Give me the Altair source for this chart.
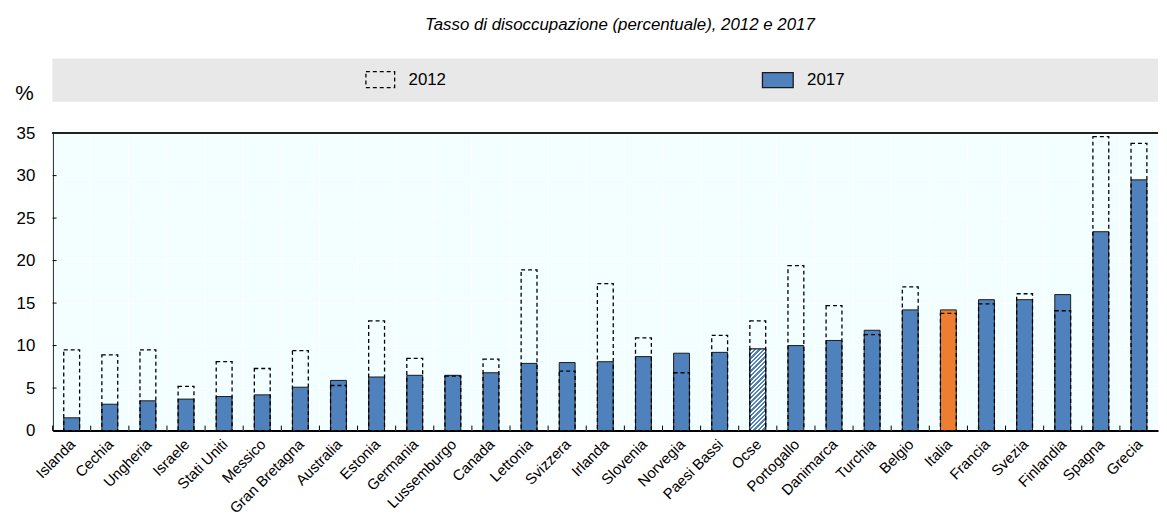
import altair as alt
import pandas as pd

countries = ["Islanda", "Cechia", "Ungheria", "Israele", "Stati Uniti", "Messico",
             "Gran Bretagna", "Australia", "Estonia", "Germania", "Lussemburgo", "Canada",
             "Lettonia", "Svizzera", "Irlanda", "Slovenia", "Norvegia", "Paesi Bassi",
             "Ocse", "Portogallo", "Danimarca", "Turchia", "Belgio", "Italia", "Francia",
             "Svezia", "Finlandia", "Spagna", "Grecia"]
v2017 = [1.5, 3.1, 3.5, 3.7, 4.0, 4.2, 5.1, 5.9, 6.3, 6.5, 6.5, 6.8, 7.9, 8.0, 8.1, 8.7,
         9.1, 9.2, 9.6, 10.0, 10.6, 11.8, 14.2, 14.2, 15.4, 15.4, 16.0, 23.4, 29.5]
v2012 = [9.5, 8.9, 9.5, 5.2, 8.1, 7.3, 9.4, 5.3, 12.9, 8.5, 6.4, 8.4, 18.9, 7.0, 17.3, 10.9,
         6.8, 11.2, 12.9, 19.4, 14.7, 11.3, 16.9, 13.8, 14.9, 16.1, 14.1, 34.6, 33.8]
y_ticks = [0, 5, 10, 15, 20, 25, 30, 35]
legend_labels = ["2012", "2017"]
title_text = "Tasso di disoccupazione (percentuale), 2012 e 2017"

BLUE = "#4F81BD"
ORANGE = "#ED7D31"
FONT = "Liberation Sans"
W = 1115
H = 300

df = pd.DataFrame({"country": countries, "v2017": v2017, "v2012": v2012})
ticks_df = pd.DataFrame({"t": y_ticks})

xenc = alt.X("country:N", sort=countries,
             scale=alt.Scale(paddingInner=0, paddingOuter=0),
             axis=alt.Axis(title=None, labelAngle=-45, labelAlign="right",
                           labelBaseline="top", labelFontSize=15, labelFont=FONT,
                           labelColor="black", ticks=False, labelPadding=6,
                           labelOffset=-4,
                           domainColor="black", domainWidth=2, grid=False))
yscale = alt.Scale(domain=[0, 35], nice=False)

base = alt.Chart(df)

vgrid = base.mark_rule(color="white", strokeWidth=1).encode(
    x=alt.X("country:N", sort=countries, bandPosition=0),
    y=alt.value(0), y2=alt.value(H))
xticks_in = base.mark_rule(color="black", strokeWidth=1).encode(
    x=alt.X("country:N", sort=countries, bandPosition=0),
    y=alt.value(H - 5), y2=alt.value(H))

bars17 = base.mark_bar(size=16, stroke="#1a1a1a", strokeWidth=1).encode(
    x=xenc,
    y=alt.Y("v2017:Q", scale=yscale,
            axis=alt.Axis(title=None, values=y_ticks, labelFontSize=17, labelFont=FONT,
                          labelColor="black", ticks=False, labelPadding=18,
                          domainColor="black", domainWidth=1.5,
                          gridColor="white", gridWidth=1, gridOpacity=1)),
    fill=alt.condition(alt.datum.country == "Italia", alt.value(ORANGE), alt.value(BLUE)),
)

n_stripes = 22
stops = []
for i in range(n_stripes):
    a = i / n_stripes
    b = (i + 0.55) / n_stripes
    c = (i + 1) / n_stripes
    stops += [alt.GradientStop(color=BLUE, offset=a), alt.GradientStop(color=BLUE, offset=b),
              alt.GradientStop(color="white", offset=b), alt.GradientStop(color="white", offset=c)]
hatch = alt.LinearGradient(gradient="linear", stops=stops, x1=0, y1=0, x2=0.225, y2=1.15)

ocse = base.transform_filter(alt.datum.country == "Ocse").mark_bar(
    size=16, stroke="#1a1a1a", strokeWidth=1, fill=hatch).encode(
    x=alt.X("country:N", sort=countries), y=alt.Y("v2017:Q", scale=yscale))

bars12 = base.mark_bar(size=16, fillOpacity=0, stroke="black", strokeWidth=1.3,
                       strokeDash=[4, 3]).encode(
    x=alt.X("country:N", sort=countries), y=alt.Y("v2012:Q", scale=yscale))

top_rule = alt.Chart(ticks_df).mark_rule(color="#222222", strokeWidth=2).encode(
    x=alt.value(0), x2=alt.value(W), y=alt.datum(35, scale=yscale))
yticks_in = alt.Chart(ticks_df).mark_rule(color="black", strokeWidth=1).encode(
    x=alt.value(0), x2=alt.value(4), y=alt.Y("t:Q", scale=yscale))

main = alt.layer(vgrid, bars17, ocse, bars12, xticks_in, yticks_in, top_rule).properties(
    width=W, height=H)

# legend band
leg_df = pd.DataFrame({"label": legend_labels})
LH = 43
band = alt.Chart(leg_df).mark_rect(fill="#E8E8E8").encode(
    x=alt.value(0), x2=alt.value(W), y=alt.value(0), y2=alt.value(LH))
sym12 = alt.Chart(leg_df).transform_filter(alt.datum.label == "2012").mark_rect(
    fillOpacity=0, stroke="black", strokeWidth=1.3, strokeDash=[4, 3]).encode(
    x=alt.value(316), x2=alt.value(345), y=alt.value(13), y2=alt.value(29))
sym17 = alt.Chart(leg_df).transform_filter(alt.datum.label == "2017").mark_rect(
    fill=BLUE, stroke="#1a1a1a", strokeWidth=1.3).encode(
    x=alt.value(716), x2=alt.value(747), y=alt.value(14), y2=alt.value(29))
txt12 = alt.Chart(leg_df).transform_filter(alt.datum.label == "2012").mark_text(
    align="left", baseline="middle", fontSize=17, font=FONT, color="black").encode(
    x=alt.value(359), y=alt.value(21), text="label:N")
txt17 = alt.Chart(leg_df).transform_filter(alt.datum.label == "2017").mark_text(
    align="left", baseline="middle", fontSize=17, font=FONT, color="black").encode(
    x=alt.value(761), y=alt.value(21), text="label:N")
pct = alt.Chart(leg_df).transform_filter(alt.datum.label == "2012").mark_text(
    align="right", baseline="alphabetic", fontSize=21, font=FONT, color="black",
    text="%").encode(x=alt.value(-19), y=alt.value(42))

legend = alt.layer(band, sym12, sym17, txt12, txt17, pct).properties(width=W, height=LH)

chart = alt.vconcat(legend, main, spacing=32, bounds="flush").properties(
    title=alt.TitleParams(title_text, font=FONT, fontSize=17, fontStyle="italic",
                          fontWeight="normal", color="black", anchor="middle",
                          offset=25, dx=33),
    padding={"left": 7, "right": 0, "top": 6, "bottom": 0},
).configure_view(fill="#F2FEFF", stroke=None).configure_concat(spacing=32)

chart.save("out.html", embed_options={"renderer": "svg", "actions": False})
